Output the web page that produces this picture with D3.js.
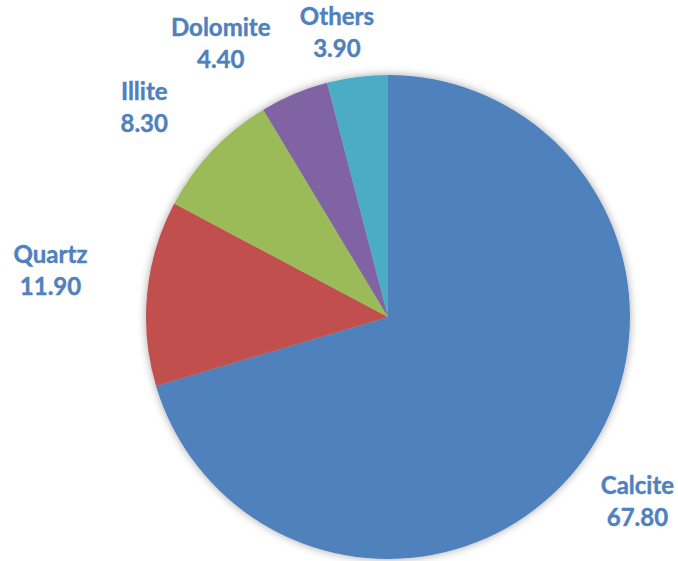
<!DOCTYPE html>
<html>
<head>
<meta charset="utf-8">
<script src="https://cdn.jsdelivr.net/npm/d3@7"></script>
<style>
  html, body { margin: 0; padding: 0; background: #ffffff; }
  svg { display: block; }
</style>
</head>
<body>
<svg id="chart" width="678" height="561"></svg>
<script>
// Mineral composition (wt%)
const minerals = ["Calcite", "Quartz", "Illite", "Dolomite", "Others"];
const amounts  = [67.8, 11.9, 8.3, 4.4, 3.9];
const colours  = ["#4F81BD", "#C0504D", "#9BBB59", "#8064A2", "#4BACC6"];

const width = 678, height = 561;
const cx = 388, cy = 317, radius = 242;

const svg = d3.select("#chart");

// soft outer shadow around the pie
const defs = svg.append("defs");
const shadow = defs.append("filter").attr("id", "pieShadow")
  .attr("x", "-20%").attr("y", "-20%").attr("width", "140%").attr("height", "140%");
shadow.append("feDropShadow")
  .attr("dx", 0).attr("dy", 0).attr("stdDeviation", 4)
  .attr("flood-color", "#000").attr("flood-opacity", 0.35);

const rows = minerals.map((name, i) => ({ name, value: amounts[i], colour: colours[i] }));

const pie = d3.pie().value(d => d.value).sort(null);
const arcs = pie(rows);
const arc = d3.arc().innerRadius(0).outerRadius(radius);

const g = svg.append("g").attr("transform", `translate(${cx},${cy})`);

g.append("g").attr("filter", "url(#pieShadow)")
  .selectAll("path")
  .data(arcs)
  .join("path")
  .attr("d", arc)
  .attr("fill", d => d.data.colour);

// labels sit outside each slice along its mid-angle, nudged clear of the rim
const labelArc = d3.arc().innerRadius(300).outerRadius(300);
const nudge = {
  Calcite:  [9, 14],
  Quartz:   [-39, -8],
  Illite:   [-26, 5],
  Dolomite: [-51, 12],
  Others:   [-13, 22]
};

const labels = g.append("g")
  .attr("font-family", "Lato, 'Open Sans', sans-serif")
  .attr("font-weight", 700)
  .attr("font-size", 24)
  .attr("fill", "#4F81BD")
  .attr("stroke", "#4F81BD")
  .attr("stroke-width", 0.4)
  .attr("text-anchor", "middle")
  .selectAll("text")
  .data(arcs)
  .join("text")
  .attr("transform", d => {
    const [x, y] = labelArc.centroid(d);
    const [nx, ny] = nudge[d.data.name];
    return `translate(${x + nx},${y + ny})`;
  });

labels.append("tspan").attr("x", 0).attr("y", -16).text(d => d.data.name);
labels.append("tspan").attr("x", 0).attr("y", 16).text(d => d.data.value.toFixed(2));
</script>
</body>
</html>
